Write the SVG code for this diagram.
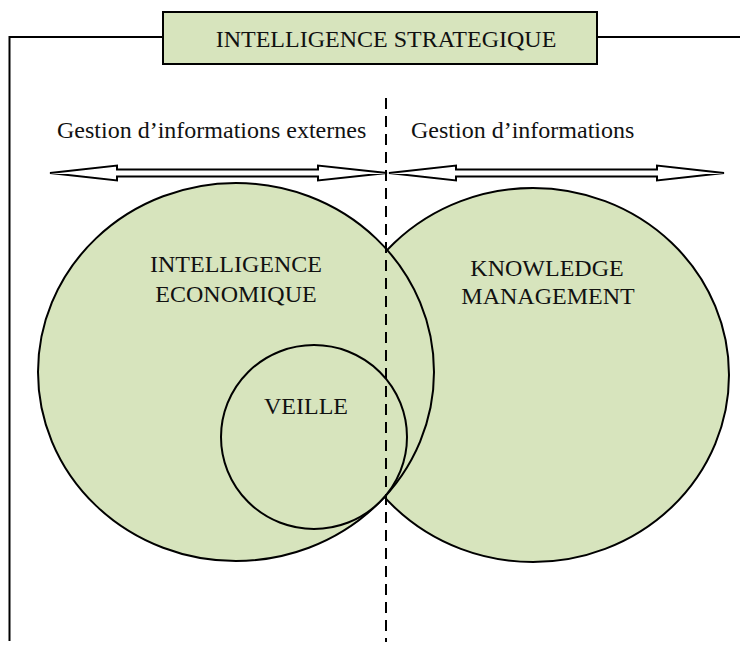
<svg xmlns="http://www.w3.org/2000/svg" width="748" height="655" viewBox="0 0 748 655">
<style>
.t{font-family:"Liberation Serif","Times New Roman",serif;font-size:24px;fill:#111}
.c{fill:#d7e4bd;stroke:#000;stroke-width:2}
.a{fill:#fff;stroke:#000;stroke-width:2;stroke-linejoin:miter}
</style>
<rect width="748" height="655" fill="#fff"/>
<g id="frame">
<polyline points="9.5,641 9.5,37 163,37" fill="none" stroke="#000" stroke-width="2"/>
<line x1="597" y1="37" x2="740" y2="37" stroke="#000" stroke-width="2"/>
</g>
<g id="title">
<rect x="163" y="12" width="434" height="52" fill="#d7e4bd" stroke="#000" stroke-width="2"/>
<text class="t" x="386" y="47" text-anchor="middle">INTELLIGENCE STRATEGIQUE</text>
</g>
<g id="labels">
<text class="t" x="57" y="138">Gestion d’informations externes</text>
<text class="t" x="411" y="138">Gestion d’informations</text>
</g>
<g id="km">
<ellipse class="c" cx="533" cy="375" rx="196" ry="187"/>
<text class="t" x="547" y="276" text-anchor="middle">KNOWLEDGE</text>
<text class="t" x="548" y="304" text-anchor="middle">MANAGEMENT</text>
</g>
<g id="ie">
<ellipse class="c" cx="236" cy="372" rx="198" ry="189"/>
<text class="t" x="236" y="272" text-anchor="middle">INTELLIGENCE</text>
<text class="t" x="236" y="302" text-anchor="middle">ECONOMIQUE</text>
</g>
<g id="veille">
<ellipse class="c" cx="314" cy="437" rx="93" ry="92"/>
<text class="t" x="306" y="414" text-anchor="middle">VEILLE</text>
</g>
<g id="connectors">
<line x1="386" y1="98" x2="386" y2="642" stroke="#000" stroke-width="2" stroke-dasharray="11,7"/>
<polygon class="a" points="50,173 117,165.5 117,169.5 318,169.5 318,165.5 387,173 318,180.5 318,176.5 117,176.5 117,180.5"/>
<polygon class="a" points="389,173 456,165.5 456,169.5 657,169.5 657,165.5 724,173 657,180.5 657,176.5 456,176.5 456,180.5"/>
</g>
</svg>
